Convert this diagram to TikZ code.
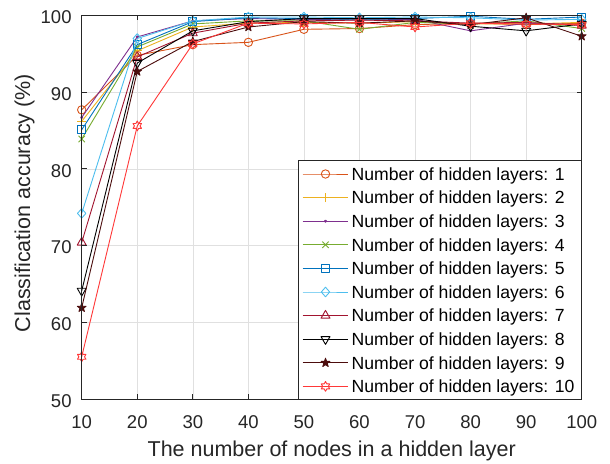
\documentclass[tikz,border=0pt]{standalone}
\usepackage{fontspec}
\setmainfont{Liberation Sans}
\usetikzlibrary{plotmarks}

% line colours of the ten series
\definecolor{c1}{rgb}{0.850,0.325,0.098}
\definecolor{c2}{rgb}{0.929,0.694,0.125}
\definecolor{c3}{rgb}{0.494,0.184,0.556}
\definecolor{c4}{rgb}{0.466,0.674,0.188}
\definecolor{c5}{rgb}{0.000,0.447,0.741}
\definecolor{c6}{rgb}{0.301,0.745,0.933}
\definecolor{c7}{rgb}{0.635,0.078,0.184}
\definecolor{c8}{rgb}{0,0,0}
\definecolor{c9}{rgb}{0.30,0.05,0.05}
\definecolor{c10}{rgb}{1.0,0.22,0.22}
\definecolor{gridc}{gray}{0.88}
\definecolor{axc}{gray}{0.15}

% marker shapes
\pgfdeclareplotmark{mcircle}{\pgfpathcircle{\pgfpointorigin}{4.2pt}\pgfusepathqstroke}
\pgfdeclareplotmark{mplus}{%
  \pgfpathmoveto{\pgfqpoint{-4.6pt}{0pt}}\pgfpathlineto{\pgfqpoint{4.6pt}{0pt}}%
  \pgfpathmoveto{\pgfqpoint{0pt}{-4.6pt}}\pgfpathlineto{\pgfqpoint{0pt}{4.6pt}}%
  \pgfusepathqstroke}
\pgfdeclareplotmark{mdot}{\pgfpathcircle{\pgfpointorigin}{1.1pt}\pgfusepathqfillstroke}
\pgfdeclareplotmark{mcross}{%
  \pgfpathmoveto{\pgfqpoint{-3.2pt}{-3.2pt}}\pgfpathlineto{\pgfqpoint{3.2pt}{3.2pt}}%
  \pgfpathmoveto{\pgfqpoint{-3.2pt}{3.2pt}}\pgfpathlineto{\pgfqpoint{3.2pt}{-3.2pt}}%
  \pgfusepathqstroke}
\pgfdeclareplotmark{msquare}{%
  \pgfpathrectangle{\pgfqpoint{-3.9pt}{-3.9pt}}{\pgfqpoint{7.8pt}{7.8pt}}\pgfusepathqstroke}
\pgfdeclareplotmark{mdiamond}{%
  \pgfpathmoveto{\pgfqpoint{0pt}{4.8pt}}\pgfpathlineto{\pgfqpoint{4.2pt}{0pt}}%
  \pgfpathlineto{\pgfqpoint{0pt}{-4.8pt}}\pgfpathlineto{\pgfqpoint{-4.2pt}{0pt}}%
  \pgfpathclose\pgfusepathqstroke}
\pgfdeclareplotmark{mtriup}{%
  \pgfpathmoveto{\pgfpointpolar{90}{5.2pt}}\pgfpathlineto{\pgfpointpolar{210}{5.2pt}}%
  \pgfpathlineto{\pgfpointpolar{330}{5.2pt}}\pgfpathclose\pgfusepathqstroke}
\pgfdeclareplotmark{mtridown}{%
  \pgfpathmoveto{\pgfpointpolar{270}{5.2pt}}\pgfpathlineto{\pgfpointpolar{30}{5.2pt}}%
  \pgfpathlineto{\pgfpointpolar{150}{5.2pt}}\pgfpathclose\pgfusepathqstroke}
\pgfdeclareplotmark{mstar}{%
  \pgfpathmoveto{\pgfpointpolar{90}{4.6pt}}%
  \pgfpathlineto{\pgfpointpolar{126}{1.8pt}}\pgfpathlineto{\pgfpointpolar{162}{4.6pt}}%
  \pgfpathlineto{\pgfpointpolar{198}{1.8pt}}\pgfpathlineto{\pgfpointpolar{234}{4.6pt}}%
  \pgfpathlineto{\pgfpointpolar{270}{1.8pt}}\pgfpathlineto{\pgfpointpolar{306}{4.6pt}}%
  \pgfpathlineto{\pgfpointpolar{342}{1.8pt}}\pgfpathlineto{\pgfpointpolar{18}{4.6pt}}%
  \pgfpathlineto{\pgfpointpolar{54}{1.8pt}}\pgfpathclose\pgfusepathqfillstroke}
\pgfdeclareplotmark{mhex}{%
  \pgfpathmoveto{\pgfpointpolar{90}{4.9pt}}%
  \pgfpathlineto{\pgfpointpolar{120}{2.83pt}}\pgfpathlineto{\pgfpointpolar{150}{4.9pt}}%
  \pgfpathlineto{\pgfpointpolar{180}{2.83pt}}\pgfpathlineto{\pgfpointpolar{210}{4.9pt}}%
  \pgfpathlineto{\pgfpointpolar{240}{2.83pt}}\pgfpathlineto{\pgfpointpolar{270}{4.9pt}}%
  \pgfpathlineto{\pgfpointpolar{300}{2.83pt}}\pgfpathlineto{\pgfpointpolar{330}{4.9pt}}%
  \pgfpathlineto{\pgfpointpolar{0}{2.83pt}}\pgfpathlineto{\pgfpointpolar{30}{4.9pt}}%
  \pgfpathlineto{\pgfpointpolar{60}{2.83pt}}\pgfpathclose\pgfusepathqstroke}

\begin{document}
\begin{tikzpicture}[x=1pt,y=1pt,
  series/.style={line width=0.9pt, line join=round},
  gridline/.style={draw=gridc, line width=0.6pt},
  frame/.style={draw=axc, line width=0.8pt},
  ticklab/.style={font=\fontsize{18.5}{21}\selectfont, text=axc, inner sep=0pt},
  axlab/.style={font=\fontsize{21.5}{24}\selectfont, text=axc, inner sep=0pt},
  legtext/.style={font=\fontsize{17.6}{20}\selectfont, text=black, inner sep=0pt, anchor=base west},
]
\useasboundingbox[fill=white] (0,0) rectangle (610,463);

% data coordinates: x = nodes per layer, y = accuracy in %
\begin{scope}[x=5.5556pt, y=7.67pt, shift={(26.144pt,-319.5pt)}]
  \foreach \gx in {20,30,...,90} \draw[gridline] (\gx,50) -- (\gx,100);
  \foreach \gy in {60,70,80,90} \draw[gridline] (10,\gy) -- (100,\gy);

  \draw[c1,series] plot[mark=mcircle,mark options={fill=c1}] coordinates
    {(10,87.7) (20,94.8) (30,96.2) (40,96.5) (50,98.2) (60,98.3) (70,98.8) (80,99.0) (90,98.8) (100,99.0)};
  \draw[c2,series] plot[mark=mplus,mark options={fill=c2}] coordinates
    {(10,86.2) (20,95.4) (30,98.5) (40,99.0) (50,99.1) (60,99.0) (70,99.2) (80,98.9) (90,98.9) (100,99.1)};
  \draw[c3,series] plot[mark=mdot,mark options={fill=c3}] coordinates
    {(10,86.7) (20,97.2) (30,99.3) (40,99.6) (50,99.5) (60,99.4) (70,99.5) (80,98.0) (90,99.0) (100,98.8)};
  \draw[c4,series] plot[mark=mcross,mark options={fill=c4}] coordinates
    {(10,83.9) (20,95.9) (30,98.9) (40,99.3) (50,99.3) (60,98.2) (70,99.1) (80,98.9) (90,99.3) (100,98.3)};
  \draw[c5,series] plot[mark=msquare,mark options={fill=c5}] coordinates
    {(10,85.1) (20,96.2) (30,99.2) (40,99.7) (50,99.6) (60,99.5) (70,99.6) (80,99.9) (90,99.5) (100,99.8)};
  \draw[c6,series] plot[mark=mdiamond,mark options={fill=c6}] coordinates
    {(10,74.2) (20,97.0) (30,99.3) (40,99.8) (50,99.8) (60,99.7) (70,99.8) (80,99.7) (90,99.4) (100,99.5)};
  \draw[c7,series] plot[mark=mtriup,mark options={fill=c7}] coordinates
    {(10,70.4) (20,94.6) (30,97.7) (40,99.0) (50,99.3) (60,99.4) (70,99.3) (80,99.0) (90,99.1) (100,98.7)};
  \draw[c8,series] plot[mark=mtridown,mark options={fill=c8}] coordinates
    {(10,64.1) (20,93.8) (30,98.0) (40,99.2) (50,99.6) (60,99.6) (70,99.6) (80,98.6) (90,98.0) (100,98.9)};
  \draw[c9,series] plot[mark=mstar,mark options={fill=c9}] coordinates
    {(10,61.9) (20,92.7) (30,96.6) (40,98.5) (50,99.2) (60,99.0) (70,99.3) (80,98.8) (90,99.7) (100,97.3)};
  \draw[c10,series] plot[mark=mhex,mark options={fill=c10}] coordinates
    {(10,55.5) (20,85.6) (30,96.3) (40,99.0) (50,98.9) (60,99.1) (70,98.5) (80,99.0) (90,98.9) (100,98.8)};

  % axes box and inward ticks
  \draw[frame] (10,50) rectangle (100,100);
  \foreach \tx in {20,30,...,90} {
    \draw[frame] (\tx,50) -- ++(0,0.65);
    \draw[frame] (\tx,100) -- ++(0,-0.65);
  }
  \foreach \ty in {60,70,80,90} {
    \draw[frame] (10,\ty) -- ++(0.9,0);
    \draw[frame] (100,\ty) -- ++(-0.9,0);
  }
  \foreach \tx in {10,20,...,100}
    \node[ticklab, anchor=north] (xt\tx) at (\tx,47.91) {\tx};
  \foreach \ty in {50,60,...,100}
    \node[ticklab, anchor=east] (yt\ty) at (8.21,\ty-0.25) {\ty};
\end{scope}

% axis titles
\node[axlab, anchor=base] (xlabel) at (331.7,7) {The number of nodes in a hidden layer};
\node[axlab, rotate=90, anchor=base] (ylabel) at (30,260) {Classification accuracy (\%)};

% legend
\draw[frame, fill=white] (298.3,64) rectangle (581.7,303);
\foreach \i/\c/\m in {0/c1/mcircle, 1/c2/mplus, 2/c3/mdot, 3/c4/mcross, 4/c5/msquare,
                      5/c6/mdiamond, 6/c7/mtriup, 7/c8/mtridown, 8/c9/mstar, 9/c10/mhex} {
  \pgfmathsetmacro\ly{289-23.6*\i}
  \pgfmathtruncatemacro\n{\i+1}
  \draw[\c, series] plot[mark=\m, mark indices={2}, mark options={fill=\c}]
    coordinates {(302.7,\ly) (325.5,\ly) (348.3,\ly)};
  \node[legtext] (leg\n) at (351.5,\ly-6.3) {Number of hidden layers: \n};
}
\end{tikzpicture}
\end{document}
